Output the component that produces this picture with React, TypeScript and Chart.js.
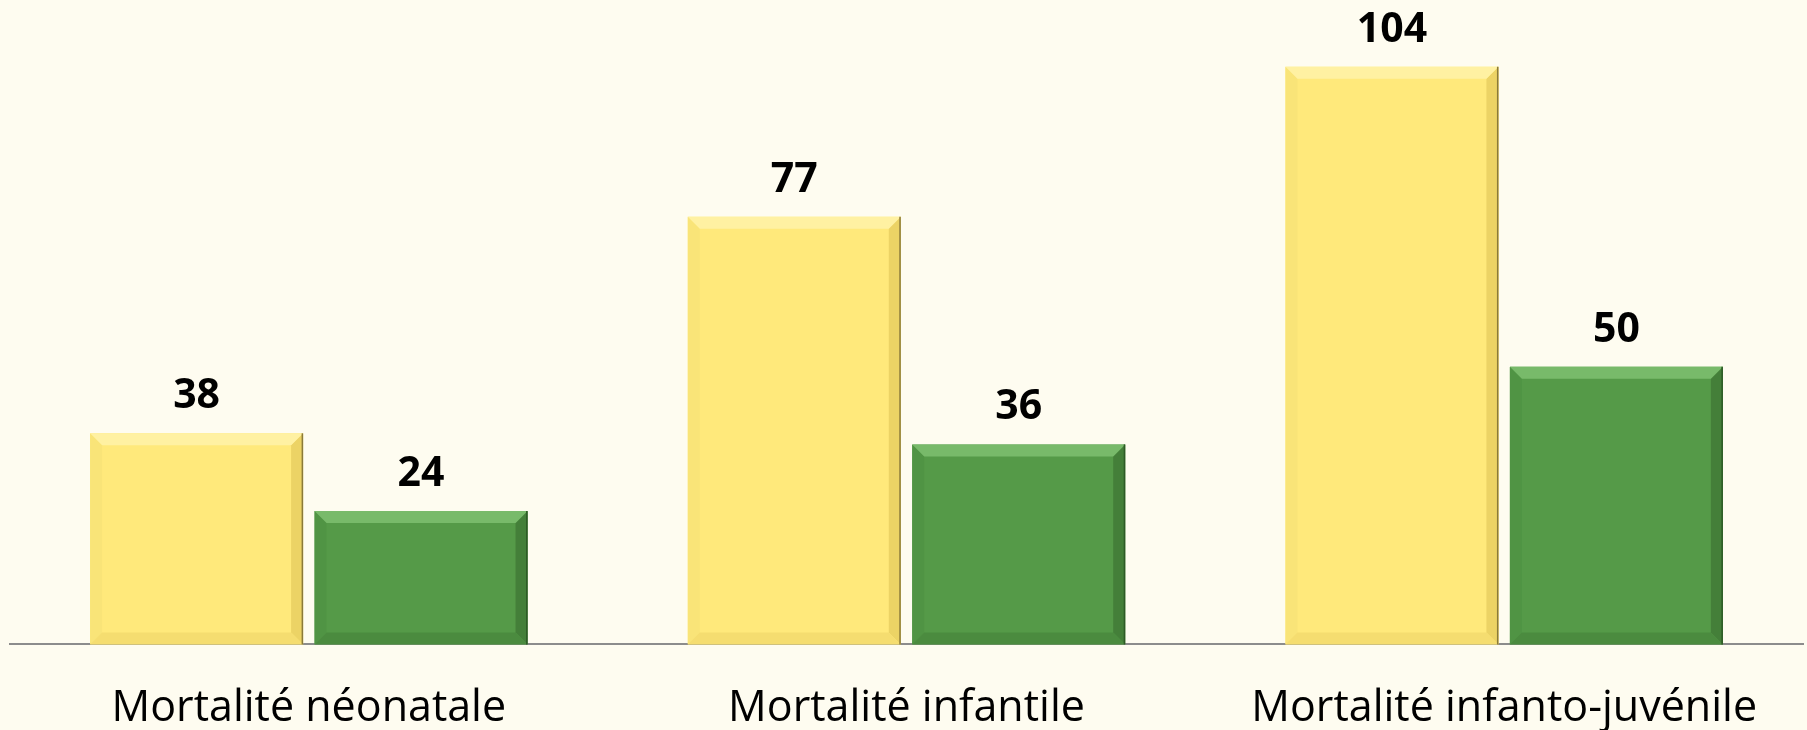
import React, { useEffect, useRef } from "react";
import { Chart, registerables } from "chart.js";

Chart.register(...registerables);

const categories = ["Mortalité néonatale", "Mortalité infantile", "Mortalité infanto-juvénile"];
const seriesA = [38, 77, 104];
const seriesB = [24, 36, 50];
const seriesNames = ["Série 1", "Série 2"];

const BG = "#FEFCF0";
const YELLOW = "#FFE97B";
const GREEN = "#559A48";

const bevelTheme: Record<string, { top: string; left: string; right: string; bottom: string; edge: string }> = {
  [YELLOW]: { top: "#FFF1A2", left: "#F9E478", right: "#ECD365", bottom: "#F5DD70", edge: "#8A7A3A" },
  [GREEN]: { top: "#78BA6A", left: "#509444", right: "#447F39", bottom: "#4B8B3F", edge: "#2E5A26" },
};

const bgPlugin = {
  id: "bg",
  beforeDraw(chart: any) {
    const { ctx, width, height } = chart;
    ctx.save();
    ctx.fillStyle = BG;
    ctx.fillRect(0, 0, width, height);
    ctx.restore();
  },
};

const bevelPlugin = {
  id: "bevel",
  afterDatasetsDraw(chart: any) {
    const ctx = chart.ctx;
    chart.data.datasets.forEach((ds: any, di: number) => {
      const meta = chart.getDatasetMeta(di);
      const th = bevelTheme[ds.backgroundColor];
      meta.data.forEach((bar: any) => {
        const { x, y, base, width } = bar.getProps(["x", "y", "base", "width"], true);
        const l = x - width / 2;
        const r = x + width / 2;
        const t = y;
        const b = base;
        const s = 12;
        ctx.save();
        ctx.fillStyle = th.left;
        ctx.beginPath();
        ctx.moveTo(l, t); ctx.lineTo(l + s, t + s); ctx.lineTo(l + s, b - s); ctx.lineTo(l, b); ctx.closePath();
        ctx.fill();
        ctx.fillStyle = th.right;
        ctx.beginPath();
        ctx.moveTo(r, t); ctx.lineTo(r - s, t + s); ctx.lineTo(r - s, b - s); ctx.lineTo(r, b); ctx.closePath();
        ctx.fill();
        ctx.fillStyle = th.bottom;
        ctx.beginPath();
        ctx.moveTo(l, b); ctx.lineTo(l + s, b - s); ctx.lineTo(r - s, b - s); ctx.lineTo(r, b); ctx.closePath();
        ctx.fill();
        ctx.fillStyle = th.top;
        ctx.beginPath();
        ctx.moveTo(l, t); ctx.lineTo(r, t); ctx.lineTo(r - s, t + s); ctx.lineTo(l + s, t + s); ctx.closePath();
        ctx.fill();
        ctx.strokeStyle = th.edge;
        ctx.lineWidth = 1.5;
        ctx.beginPath();
        ctx.moveTo(r - 0.75, t); ctx.lineTo(r - 0.75, b);
        ctx.stroke();
        ctx.restore();
      });
    });
  },
};

const valueLabelPlugin = {
  id: "valueLabels",
  afterDatasetsDraw(chart: any) {
    const ctx = chart.ctx;
    ctx.save();
    ctx.font = "bold 41px 'Open Sans'";
    ctx.fillStyle = "#000";
    ctx.textAlign = "center";
    ctx.textBaseline = "alphabetic";
    chart.data.datasets.forEach((ds: any, di: number) => {
      const meta = chart.getDatasetMeta(di);
      meta.data.forEach((bar: any, i: number) => {
        ctx.fillText(String(ds.data[i]), bar.x, bar.y - 25);
      });
    });
    ctx.restore();
  },
};

export default function App() {
  const ref = useRef<HTMLCanvasElement | null>(null);

  useEffect(() => {
    if (!ref.current) return;
    const chart = new Chart(ref.current, {
      type: "bar",
      data: {
        labels: categories,
        datasets: [
          {
            label: seriesNames[0],
            data: seriesA,
            backgroundColor: YELLOW,
            borderWidth: 0,
            categoryPercentage: 0.751,
            barPercentage: 0.949,
          },
          {
            label: seriesNames[1],
            data: seriesB,
            backgroundColor: GREEN,
            borderWidth: 0,
            categoryPercentage: 0.751,
            barPercentage: 0.949,
          },
        ],
      },
      options: {
        responsive: false,
        animation: false,
        devicePixelRatio: 1,
        layout: { padding: { left: 10, right: 4, top: 0, bottom: -44 } },
        plugins: {
          legend: { display: false },
          tooltip: { enabled: false },
          title: { display: false },
        },
        scales: {
          x: {
            grid: { display: false, drawTicks: false },
            border: { display: true, color: "#8C8C8C", width: 2 },
            ticks: {
              color: "#000",
              font: { family: "'Open Sans'", size: 43 },
              padding: 39,
              maxRotation: 0,
              autoSkip: false,
            },
          },
          y: {
            display: false,
            min: 0,
            max: 116,
          },
        },
      },
      plugins: [bgPlugin, bevelPlugin, valueLabelPlugin],
    });
    return () => chart.destroy();
  }, []);

  return (
    <div style={{ position: "fixed", left: 0, top: 0, width: 1807, height: 730, background: BG, overflow: "hidden" }}>
      <canvas ref={ref} width={1807} height={730} style={{ display: "block" }} />
    </div>
  );
}
